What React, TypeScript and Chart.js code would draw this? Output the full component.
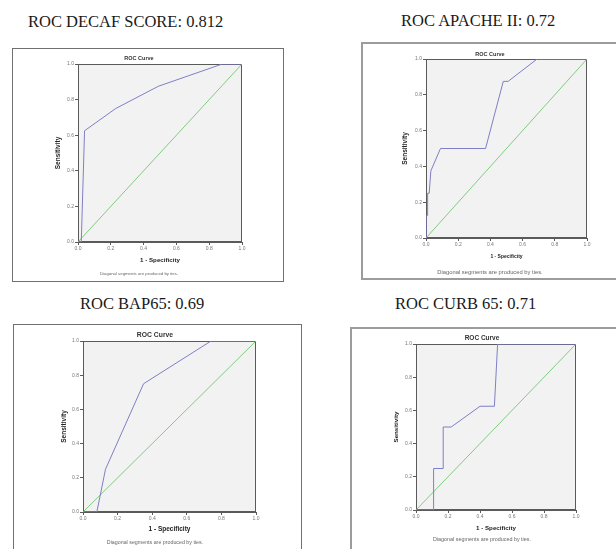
import React, { useEffect, useRef } from "react";
import { Chart, registerables } from "chart.js";

Chart.register(...registerables);

// ---- Data (1 - specificity on x, sensitivity on y) ----
const DECAF_FPR = [0, 0.02, 0.04, 0.23, 0.49, 0.88, 1];
const DECAF_TPR = [0, 0, 0.625, 0.75, 0.875, 1, 1];

const APACHE_FPR = [0, 0, 0.01, 0.01, 0.02, 0.03, 0.09, 0.37, 0.48, 0.51, 0.69, 1];
const APACHE_TPR = [0, 0.125, 0.125, 0.25, 0.25, 0.375, 0.5, 0.5, 0.875, 0.875, 1, 1];

const BAP65_FPR = [0, 0.08, 0.13, 0.35, 0.74, 1];
const BAP65_TPR = [0, 0, 0.25, 0.75, 1, 1];

const CURB65_FPR = [0, 0.11, 0.11, 0.17, 0.17, 0.22, 0.4, 0.49, 0.51, 1];
const CURB65_TPR = [0, 0, 0.25, 0.25, 0.5, 0.5, 0.625, 0.625, 1, 1];

const DIAGONAL = [0, 1];
const TICK_VALUES = [0, 0.2, 0.4, 0.6, 0.8, 1.0];

const PANEL_TITLES = [
  "ROC DECAF SCORE: 0.812",
  "ROC APACHE II: 0.72",
  "ROC BAP65: 0.69",
  "ROC CURB 65: 0.71",
];
const CHART_TITLE = "ROC Curve";
const X_TITLE = "1 - Specificity";
const Y_TITLE = "Sensitivity";
const FOOTNOTE = "Diagonal segments are produced by ties.";

// ---- Styles ----
const SANS = "'Liberation Sans', Arial, sans-serif";
const SERIF = "'Liberation Serif', 'Times New Roman', serif";
const CURVE_COLOR = "#7f7fc6";
const DIAG_COLOR = "#80cc80";
const AXIS_COLOR = "#5a5a5a";
const PLOT_BG = "#f2f2f2";

type Geo = {
  x: number; y: number; w: number; h: number;
  al: number; ar: number; at: number; ab: number;
  ty: number; xty: number; fy: number; ytx: number; tc: number;
  tf: number; sf: number; xf: number; yf: number;
  border: string;
  titleX: number; titleY: number;
};

const GEOS: Geo[] = [
  { x: 12, y: 48, w: 272, h: 234, al: 78, ar: 242, at: 64, ab: 242, ty: 58, xty: 260, fy: 274, ytx: 58, tc: 139,
    tf: 5.5, sf: 4.3, xf: 6.2, yf: 6.5, border: "1px solid #707070", titleX: 28, titleY: 21 },
  { x: 361, y: 42, w: 258, h: 238, al: 426, ar: 587, at: 59, ab: 238, ty: 54, xty: 257, fy: 272, ytx: 405, tc: 490,
    tf: 5.5, sf: 5.8, xf: 5, yf: 6.5, border: "2px solid #9c9c9c", titleX: 401, titleY: 20 },
  { x: 13, y: 324, w: 289, h: 230, al: 83, ar: 256, at: 341, ab: 512, ty: 335, xty: 529, fy: 543, ytx: 64, tc: 155,
    tf: 6.8, sf: 5.3, xf: 6.5, yf: 6.5, border: "1px solid #707070", titleX: 80, titleY: 303 },
  { x: 350, y: 327, w: 270, h: 228, al: 416, ar: 576, at: 344, ab: 510, ty: 338, xty: 528, fy: 540, ytx: 396, tc: 482,
    tf: 6.5, sf: 5.4, xf: 6.2, yf: 6.2, border: "2px solid #9c9c9c", titleX: 395, titleY: 303 },
];

const SERIES: [number[], number[]][] = [
  [DECAF_FPR, DECAF_TPR],
  [APACHE_FPR, APACHE_TPR],
  [BAP65_FPR, BAP65_TPR],
  [CURB65_FPR, CURB65_TPR],
];

const plotFrame = {
  id: "plotFrame",
  beforeDraw(chart: any) {
    const { ctx, chartArea: a } = chart;
    if (!a) return;
    ctx.save();
    ctx.fillStyle = PLOT_BG;
    ctx.fillRect(a.left, a.top, a.right - a.left, a.bottom - a.top);
    ctx.strokeStyle = AXIS_COLOR;
    ctx.lineWidth = 1;
    ctx.strokeRect(a.left + 0.5, a.top + 0.5, a.right - a.left - 1, a.bottom - a.top - 1);
    ctx.restore();
  },
};

function RocChart({ g, fpr, tpr }: { g: Geo; fpr: number[]; tpr: number[] }) {
  const ref = useRef<HTMLCanvasElement>(null);
  useEffect(() => {
    const canvas = ref.current!;
    const W = g.w, H = g.h;
    const areaL = g.al - g.x, areaR = g.ar - g.x, areaT = g.at - g.y, areaB = g.ab - g.y;
    const titleY = g.ty - g.y, xTitleY = g.xty - g.y, footY = g.fy - g.y, yTitleX = g.ytx - g.x;
    const center = g.tc - g.x;
    const padL = 2 * center - areaR;
    const TF = g.tf, TLH = TF * 1.2;
    const SF = g.sf, SLH = SF * 1.2;
    const XF = g.xf, XLH = XF * 1.2;
    const YF = g.yf, YLH = YF * 1.2;
    const subTop = footY - SLH / 2;

    const tickCfg = {
      callback: (v: any) => Number(v).toFixed(1),
      font: { family: SANS, size: 5 },
      color: "#777",
      padding: 1,
      maxRotation: 0,
      autoSkip: false,
    };
    const buildTicks = (s: any) => {
      s.ticks = TICK_VALUES.map((v) => ({ value: v }));
    };

    const chart = new Chart(canvas, {
      type: "scatter",
      data: {
        datasets: [
          {
            data: fpr.map((x, i) => ({ x, y: tpr[i] })),
            showLine: true,
            borderColor: CURVE_COLOR,
            borderWidth: 1,
            pointRadius: 0,
            tension: 0,
          },
          {
            data: DIAGONAL.map((v) => ({ x: v, y: v })),
            showLine: true,
            borderColor: DIAG_COLOR,
            borderWidth: 1,
            pointRadius: 0,
          },
        ],
      },
      options: {
        responsive: false,
        animation: false,
        events: [],
        layout: { padding: { left: padL, top: 0, bottom: 0, right: W - areaR } },
        plugins: {
          legend: { display: false },
          tooltip: { enabled: false },
          title: {
            display: true,
            text: CHART_TITLE,
            font: { family: SANS, size: TF, weight: "bold" },
            color: "#333",
            padding: { top: titleY - TLH / 2, bottom: areaT - titleY - TLH / 2 },
          },
          subtitle: {
            display: true,
            position: "bottom",
            text: FOOTNOTE,
            font: { family: SANS, size: SF },
            color: "#666",
            padding: { top: 0, bottom: H - footY - SLH / 2 },
          },
        },
        scales: {
          x: {
            type: "linear",
            min: 0,
            max: 1,
            afterBuildTicks: buildTicks,
            ticks: tickCfg,
            grid: { drawOnChartArea: false, drawTicks: true, tickLength: 3, color: AXIS_COLOR },
            border: { display: true, color: AXIS_COLOR },
            title: {
              display: true,
              text: X_TITLE,
              font: { family: SANS, size: XF, weight: "bold" },
              color: "#222",
              padding: { top: 0, bottom: subTop - xTitleY - XLH / 2 },
            },
            afterFit: (s: any) => {
              s.height = subTop - areaB;
            },
          },
          y: {
            type: "linear",
            min: 0,
            max: 1,
            afterBuildTicks: buildTicks,
            ticks: tickCfg,
            grid: { drawOnChartArea: false, drawTicks: true, tickLength: 3, color: AXIS_COLOR },
            border: { display: true, color: AXIS_COLOR },
            title: {
              display: true,
              text: Y_TITLE,
              font: { family: SANS, size: YF, weight: "bold" },
              color: "#222",
              padding: { top: yTitleX - padL - YLH / 2, bottom: 0 },
            },
            afterFit: (s: any) => {
              s.width = areaL - padL;
            },
          },
        },
      } as any,
      plugins: [plotFrame],
    });
    return () => chart.destroy();
  }, [g, fpr, tpr]);

  return (
    <>
      <div
        style={{
          position: "absolute",
          left: g.x,
          top: g.y,
          width: g.w,
          height: g.h,
          boxSizing: "border-box",
          border: g.border,
          background: "#fff",
        }}
      />
      <canvas
        ref={ref}
        width={g.w}
        height={g.h}
        style={{ position: "absolute", left: g.x, top: g.y, width: g.w, height: g.h }}
      />
    </>
  );
}

export default function App() {
  return (
    <div
      style={{
        position: "fixed",
        left: 0,
        top: 0,
        width: 616,
        height: 549,
        overflow: "hidden",
        background: "#fff",
      }}
    >
      {GEOS.map((g, i) => (
        <React.Fragment key={i}>
          <div
            style={{
              position: "absolute",
              left: g.titleX,
              top: g.titleY - 8,
              fontFamily: SERIF,
              fontSize: 16.5,
              lineHeight: "18px",
              whiteSpace: "nowrap",
              color: "#1a1a1a",
            }}
          >
            {PANEL_TITLES[i]}
          </div>
          <RocChart g={g} fpr={SERIES[i][0]} tpr={SERIES[i][1]} />
        </React.Fragment>
      ))}
    </div>
  );
}
